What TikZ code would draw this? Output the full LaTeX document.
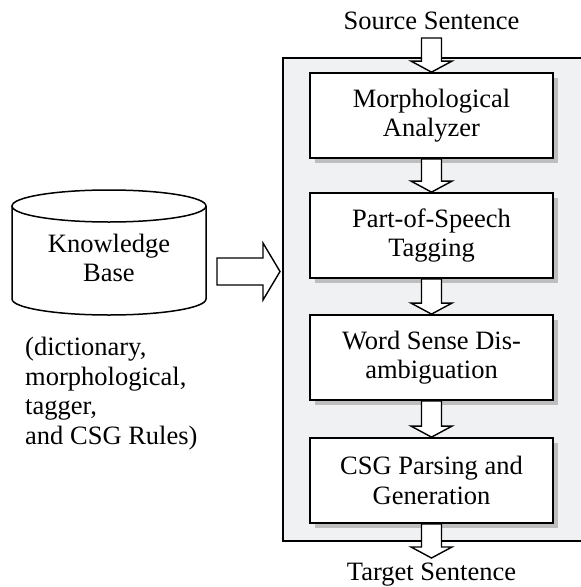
\documentclass[tikz,border=0pt]{standalone}
\usepackage{fontspec}
\setmainfont{Liberation Serif}
\usetikzlibrary{shadows,calc}
\definecolor{panelgray}{RGB}{240,241,243}
\definecolor{shadegray}{RGB}{190,190,190}

% hollow block arrows between named points
\newcommand{\downblock}[2]{%
  \draw[blk] let \p1=(#1), \p2=(#2) in
    (\x1-10pt,\y1) -- (\x1+10pt,\y1) -- (\x1+10pt,\y2+11pt) -- (\x1+20.5pt,\y2+11pt)
    -- (\x1,\y2) -- (\x1-20.5pt,\y2+11pt) -- (\x1-10pt,\y2+11pt) -- cycle;}
\newcommand{\rightblock}[2]{%
  \draw[blk] let \p1=(#1), \p2=(#2) in
    (\x1,\y1+13.5pt) -- (\x2-17pt,\y1+13.5pt) -- (\x2-17pt,\y1+28.5pt) -- (\x2,\y1)
    -- (\x2-17pt,\y1-28.5pt) -- (\x2-17pt,\y1-13.5pt) -- (\x1,\y1-13.5pt) -- cycle;}

\begin{document}
\begin{tikzpicture}[x=1pt,y=-1pt,
  txt/.style={font=\fontsize{26.5}{29.5}\selectfont, align=center, inner sep=0pt},
  stage/.style={txt, draw, line width=1.8pt, fill=white, minimum width=243pt, minimum height=85pt,
    drop shadow={shadow xshift=5pt, shadow yshift=-5pt, fill=shadegray, opacity=1}},
  panel/.style={draw, line width=1.5pt, fill=panelgray, inner sep=0pt},
  blk/.style={draw, fill=white, line width=1.4pt, line join=miter},
  cyl/.style={draw, line width=1.5pt}
]
\useasboundingbox (0,0) rectangle (581,587);

% Processing panel
\node[panel, anchor=north west, minimum width=330pt, minimum height=483pt] (panel) at (282,57) {};

% Stages
\node[stage] (morph) at (431.5,115.5) {Morphological\\Analyzer};
\node[stage] (pos)   at (431.5,235.5) {Part-of-Speech\\Tagging};
\node[stage] (wsd)   at (431.5,357.5) {Word Sense Dis-\\ambiguation};
\node[stage] (csg)   at (431.5,480.5) {CSG Parsing and\\Generation};

% Input / output
\node[txt] (src) at (431.5,21) {Source Sentence};
\node[txt] (tgt) at (431.5,574.5) {Target Sentence};
\coordinate (srcend) at (431.5,38);
\coordinate (tgtend) at (431.5,558);

\downblock{srcend}{morph.north}
\downblock{morph.south}{pos.north}
\downblock{pos.south}{wsd.north}
\downblock{wsd.south}{csg.north}
\downblock{csg.south}{tgtend}

% Knowledge base cylinder
\draw[cyl] (109,206) ellipse [x radius=97, y radius=16];
\draw[cyl] (12,206) -- (12,299) arc[start angle=180, end angle=0, x radius=97, y radius=16] -- (206,206);
\node[txt] (kb) at (109,258) {Knowledge\\Base};
\node[txt, align=left, anchor=north west] (notes) at (25,337)
  {(dictionary,\\morphological,\\tagger,\\and CSG Rules)};

\coordinate (kbout) at (217,271.5);
\rightblock{kbout}{[xshift=-2pt]panel.west}
\end{tikzpicture}
\end{document}
